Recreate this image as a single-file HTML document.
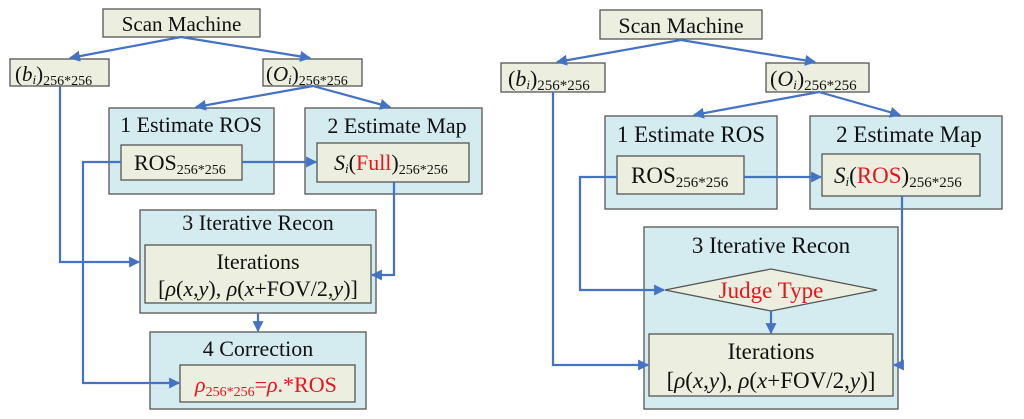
<!DOCTYPE html>
<html><head><meta charset="utf-8"><style>
html,body{margin:0;padding:0;background:#fff;}
svg{display:block;}
text{font-family:"Liberation Serif","DejaVu Serif",serif;fill:#111;}
.o{fill:#d4ebf0;stroke:#555;stroke-width:1.3;}
.i{fill:#ecefdf;stroke:#555;stroke-width:1.3;}
.l{fill:none;stroke:#4472c4;stroke-width:2.2;}
.r{fill:#e8141c;}
</style></head><body>
<svg width="1024" height="419" viewBox="0 0 1024 419" xmlns="http://www.w3.org/2000/svg">
<defs><marker id="a" viewBox="0 0 10 10" refX="9" refY="5" markerWidth="12" markerHeight="11" orient="auto" markerUnits="userSpaceOnUse"><path d="M0,0 L10,5 L0,10 z" fill="#4472c4"/></marker></defs>

<!-- LEFT -->
<rect class="i" x="103" y="9" width="157" height="28"/>
<text x="181.5" y="31" font-size="21" text-anchor="middle">Scan Machine</text>
<rect class="i" x="10" y="59" width="99" height="27"/>
<text x="15" y="81" font-size="21">(<tspan font-style="italic">b</tspan><tspan font-size="13" font-style="italic" dy="3">i</tspan><tspan dy="-3">)</tspan><tspan font-size="14" dy="4">256*256</tspan></text>
<rect class="i" x="263" y="59" width="99" height="27"/>
<text x="266" y="81" font-size="21">(<tspan font-style="italic">O</tspan><tspan font-size="13" font-style="italic" dy="3">i</tspan><tspan dy="-3">)</tspan><tspan font-size="14" dy="4">256*256</tspan></text>

<rect class="o" x="109" y="108" width="165" height="86"/>
<text x="191" y="132" font-size="22" text-anchor="middle">1 Estimate ROS</text>
<rect class="i" x="121" y="145" width="121" height="35"/>
<text x="134" y="170" font-size="22">ROS<tspan font-size="14" dy="4">256*256</tspan></text>
<rect class="o" x="305" y="108" width="177" height="86"/>
<text x="397" y="133" font-size="22" text-anchor="middle">2 Estimate Map</text>
<rect class="i" x="317" y="143" width="152" height="39"/>
<text x="334" y="170" font-size="22"><tspan font-style="italic">S</tspan><tspan font-size="13" font-style="italic" dy="3">i</tspan><tspan dy="-3">(</tspan><tspan class="r">Full</tspan>)<tspan font-size="14" dy="4">256*256</tspan></text>

<rect class="o" x="140" y="210" width="236" height="103"/>
<text x="258" y="230" font-size="22" text-anchor="middle">3 Iterative Recon</text>
<rect class="i" x="145" y="245" width="226" height="58"/>
<text x="258" y="269" font-size="22" text-anchor="middle">Iterations</text>
<text x="258" y="296" font-size="22" text-anchor="middle">[<tspan font-style="italic">ρ</tspan>(<tspan font-style="italic">x</tspan>,<tspan font-style="italic">y</tspan>), <tspan font-style="italic">ρ</tspan>(<tspan font-style="italic">x</tspan>+FOV/2,<tspan font-style="italic">y</tspan>)]</text>

<rect class="o" x="150" y="332" width="216" height="77"/>
<text x="258" y="356" font-size="22" text-anchor="middle">4 Correction</text>
<rect class="i" x="180" y="365" width="175" height="37"/>
<text x="195" y="392" font-size="22" class="r"><tspan font-style="italic" class="r">ρ</tspan><tspan font-size="14" dy="4" class="r">256*256</tspan><tspan dy="-4" class="r">=</tspan><tspan font-style="italic" class="r">ρ</tspan><tspan class="r">.*ROS</tspan></text>

<path class="l" d="M181,37 L70,58" marker-end="url(#a)"/>
<path class="l" d="M181,37 L310,58" marker-end="url(#a)"/>
<path class="l" d="M313,86 L196,107" marker-end="url(#a)"/>
<path class="l" d="M313,86 L390,107" marker-end="url(#a)"/>
<path class="l" d="M242,162 L316,162" marker-end="url(#a)"/>
<path class="l" d="M60,86 L60,262 L139,262" marker-end="url(#a)"/>
<path class="l" d="M394,182 L394,275 L372,275" marker-end="url(#a)"/>
<path class="l" d="M121,162 L83,162 L83,383 L179,383" marker-end="url(#a)"/>
<path class="l" d="M258,313 L258,331" marker-end="url(#a)"/>

<!-- RIGHT -->
<rect class="i" x="600" y="10" width="162" height="29"/>
<text x="681" y="33" font-size="22" text-anchor="middle">Scan Machine</text>
<rect class="i" x="501" y="63" width="104" height="29"/>
<text x="508" y="86" font-size="22">(<tspan font-style="italic">b</tspan><tspan font-size="13" font-style="italic" dy="3">i</tspan><tspan dy="-3">)</tspan><tspan font-size="15" dy="4">256*256</tspan></text>
<rect class="i" x="766" y="63" width="103" height="29"/>
<text x="770" y="86" font-size="22">(<tspan font-style="italic">O</tspan><tspan font-size="13" font-style="italic" dy="3">i</tspan><tspan dy="-3">)</tspan><tspan font-size="15" dy="4">256*256</tspan></text>

<rect class="o" x="605" y="116" width="172" height="93"/>
<text x="691" y="142" font-size="23" text-anchor="middle">1 Estimate ROS</text>
<rect class="i" x="617" y="156" width="127" height="38"/>
<text x="631" y="183" font-size="23">ROS<tspan font-size="15" dy="4">256*256</tspan></text>
<rect class="o" x="810" y="116" width="192" height="93"/>
<text x="909" y="142" font-size="23" text-anchor="middle">2 Estimate Map</text>
<rect class="i" x="822" y="154" width="158" height="42"/>
<text x="834" y="183" font-size="23"><tspan font-style="italic">S</tspan><tspan font-size="13" font-style="italic" dy="3">i</tspan><tspan dy="-3">(</tspan><tspan class="r">ROS</tspan>)<tspan font-size="15" dy="4">256*256</tspan></text>

<rect class="o" x="644" y="227" width="254" height="182"/>
<text x="771" y="253" font-size="23" text-anchor="middle">3 Iterative Recon</text>
<polygon points="665,290 771,269 877,290 771,311" fill="#ecefdf" stroke="#555" stroke-width="1.3"/>
<text x="771" y="298" font-size="23" text-anchor="middle" class="r">Judge Type</text>
<rect class="i" x="649" y="334" width="244" height="62"/>
<text x="771" y="359" font-size="23" text-anchor="middle">Iterations</text>
<text x="771" y="388" font-size="23" text-anchor="middle">[<tspan font-style="italic">ρ</tspan>(<tspan font-style="italic">x</tspan>,<tspan font-style="italic">y</tspan>), <tspan font-style="italic">ρ</tspan>(<tspan font-style="italic">x</tspan>+FOV/2,<tspan font-style="italic">y</tspan>)]</text>

<path class="l" d="M681,40 L557,62" marker-end="url(#a)"/>
<path class="l" d="M681,40 L815,62" marker-end="url(#a)"/>
<path class="l" d="M819,92 L694,115" marker-end="url(#a)"/>
<path class="l" d="M819,92 L900,115" marker-end="url(#a)"/>
<path class="l" d="M744,177 L821,177" marker-end="url(#a)"/>
<path class="l" d="M771,311 L771,333" marker-end="url(#a)"/>
<path class="l" d="M617,177 L580,177 L580,290 L664,290" marker-end="url(#a)"/>
<path class="l" d="M553,92 L553,365 L648,365" marker-end="url(#a)"/>
<path class="l" d="M902,196 L902,365 L894,365" marker-end="url(#a)"/>
</svg>
</body></html>
